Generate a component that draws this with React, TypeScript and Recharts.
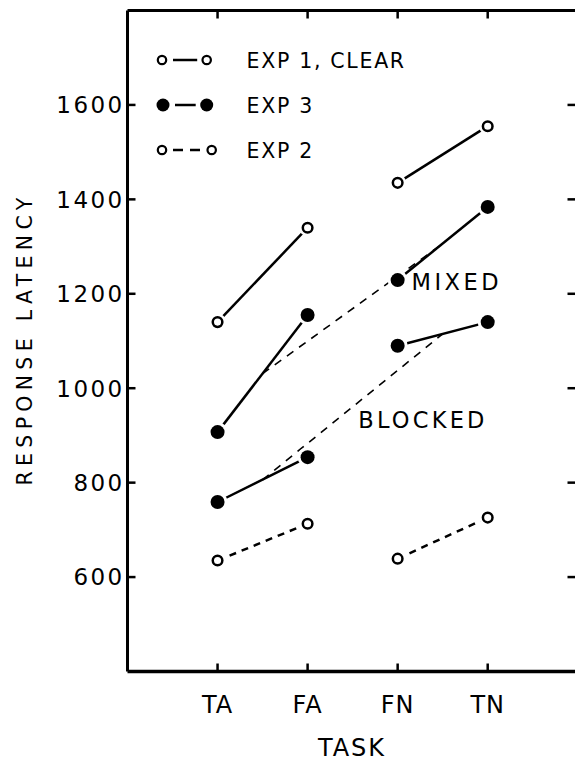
import React from 'react';
import { LineChart, Line, XAxis, YAxis, Customized } from 'recharts';

// ---- data ----
const tasks = ['TA', 'FA', 'FN', 'TN'];
const taskPositions = [1, 2, 3, 4];
const exp1Clear = [1140, 1340, 1435, 1555];
const exp3Mixed = [907, 1155, 1229, 1384];
const exp3Blocked = [759, 854, 1090, 1140];
const exp2 = [635, 713, 639, 726];
const trendPositions = [1.5, 3.5];
const mixedTrend = [1031, 1306];
const blockedTrend = [806, 1115];
const yTicks = [600, 800, 1000, 1200, 1400, 1600];
const segmentPairs = [
  [0, 1],
  [2, 3],
];

const FONT = 'DejaVu Sans';
const INK = '#000';

const segment = (vals: number[], pair: number[]) =>
  pair.map((i) => ({ x: taskPositions[i], v: vals[i] }));

const trend = (vals: number[]) => vals.map((v, i) => ({ x: trendPositions[i], v }));

const OpenDot = (props: any) => {
  const { cx, cy } = props;
  if (cx == null || cy == null) return null;
  return (
    <g>
      <circle cx={cx} cy={cy} r={8.5} fill="#fff" />
      <circle cx={cx} cy={cy} r={4.8} fill="#fff" stroke={INK} strokeWidth={2.5} />
    </g>
  );
};

const FilledDot = (props: any) => {
  const { cx, cy } = props;
  if (cx == null || cy == null) return null;
  return (
    <g>
      <circle cx={cx} cy={cy} r={10} fill="#fff" />
      <circle cx={cx} cy={cy} r={7} fill={INK} />
    </g>
  );
};

const BottomTick = (props: any) => {
  const { x, y, payload } = props;
  return (
    <g>
      <line x1={x} x2={x} y1={y} y2={y - 8} stroke={INK} strokeWidth={2.5} />
      <text
        x={x}
        y={y + 41}
        textAnchor="middle"
        fontFamily={FONT}
        fontSize={24}
        letterSpacing={1}
        fill={INK}
      >
        {tasks[taskPositions.indexOf(payload.value)]}
      </text>
    </g>
  );
};

const TopTick = (props: any) => {
  const { x, y } = props;
  return <line x1={x} x2={x} y1={y} y2={y + 8} stroke={INK} strokeWidth={2.5} />;
};

const LeftTick = (props: any) => {
  const { x, y, payload } = props;
  return (
    <g>
      <line x1={x} x2={x + 8} y1={y} y2={y} stroke={INK} strokeWidth={2.5} />
      <text
        x={x - 3}
        y={y + 8.3}
        textAnchor="end"
        fontFamily={FONT}
        fontSize={23}
        letterSpacing={2.4}
        fill={INK}
      >
        {payload.value}
      </text>
    </g>
  );
};

const RightTick = (props: any) => {
  const { x, y } = props;
  return <line x1={x} x2={x - 8} y1={y} y2={y} stroke={INK} strokeWidth={2.5} />;
};

const legendRows = [
  { label: 'EXP 1, CLEAR', kind: 'open', dash: undefined as string | undefined, y: 60, x2: 206.7 },
  { label: 'EXP 3', kind: 'filled', dash: undefined as string | undefined, y: 105, x2: 206.7 },
  { label: 'EXP 2', kind: 'open', dash: '10 7', y: 150, x2: 211.7 },
];

const Annotations = () => (
  <g>
    {legendRows.map((r) => (
      <g key={r.label}>
        <line
          x1={r.kind === 'open' ? 173 : 175}
          x2={r.x2 - (r.kind === 'open' ? 9.5 : 11)}
          y1={r.y}
          y2={r.y}
          stroke={INK}
          strokeWidth={2.5}
          strokeDasharray={r.dash}
        />
        {r.kind === 'open' ? (
          <>
            <circle cx={162} cy={r.y} r={4.2} fill="#fff" stroke={INK} strokeWidth={2.2} />
            <circle cx={r.x2} cy={r.y} r={4.2} fill="#fff" stroke={INK} strokeWidth={2.2} />
          </>
        ) : (
          <>
            <circle cx={163} cy={r.y} r={6.5} fill={INK} />
            <circle cx={r.x2} cy={r.y} r={6.5} fill={INK} />
          </>
        )}
        <text
          x={246.5}
          y={r.y + 7.5}
          fontFamily={FONT}
          fontSize={20.5}
          letterSpacing={1.7}
          fill={INK}
        >
          {r.label}
        </text>
      </g>
    ))}
    <text x={411.5} y={290} fontFamily={FONT} fontSize={22.5} letterSpacing={3.5} fill={INK}>
      MIXED
    </text>
    <text x={358.3} y={427.5} fontFamily={FONT} fontSize={22.5} letterSpacing={3.2} fill={INK}>
      BLOCKED
    </text>
    <text
      x={32}
      y={339}
      transform="rotate(-90, 32, 339)"
      textAnchor="middle"
      fontFamily={FONT}
      fontSize={20.5}
      letterSpacing={5.3}
      fill={INK}
    >
      RESPONSE LATENCY
    </text>
    <text
      x={352}
      y={756}
      textAnchor="middle"
      fontFamily={FONT}
      fontSize={24}
      letterSpacing={2}
      fill={INK}
    >
      TASK
    </text>
  </g>
);

export default function App() {
  const solidSeries = [
    { name: 'EXP 1, CLEAR', vals: exp1Clear, dot: OpenDot, dash: undefined as string | undefined },
    { name: 'EXP 3 MIXED', vals: exp3Mixed, dot: FilledDot, dash: undefined as string | undefined },
    { name: 'EXP 3 BLOCKED', vals: exp3Blocked, dot: FilledDot, dash: undefined as string | undefined },
    { name: 'EXP 2', vals: exp2, dot: OpenDot, dash: '7 6' },
  ];
  return (
    <div
      style={{
        position: 'absolute',
        left: 0,
        top: 0,
        width: 575,
        height: 761,
        overflow: 'hidden',
        background: '#fff',
      }}
    >
      <LineChart
        width={580}
        height={761}
        margin={{ top: 9.5, left: 126.5, right: 3.5, bottom: 88.5 }}
      >
        <XAxis
          type="number"
          dataKey="x"
          domain={[0, 4.975]}
          ticks={taskPositions}
          interval={0}
          allowDataOverflow
          height={1}
          tickSize={0}
          tickMargin={0}
          tickLine={false}
          tick={<BottomTick />}
          axisLine={{ stroke: INK, strokeWidth: 3.5 }}
        />
        <XAxis
          xAxisId="top"
          orientation="top"
          type="number"
          dataKey="x"
          domain={[0, 4.975]}
          ticks={taskPositions}
          interval={0}
          allowDataOverflow
          height={1}
          tickSize={0}
          tickMargin={0}
          tickLine={false}
          tick={<TopTick />}
          axisLine={{ stroke: INK, strokeWidth: 3 }}
        />
        <YAxis
          type="number"
          domain={[400, 1800]}
          ticks={yTicks}
          interval={0}
          allowDataOverflow
          width={1}
          tickSize={0}
          tickMargin={0}
          tickLine={false}
          tick={<LeftTick />}
          axisLine={{ stroke: INK, strokeWidth: 3 }}
        />
        <YAxis
          yAxisId="right"
          orientation="right"
          type="number"
          domain={[400, 1800]}
          ticks={yTicks}
          interval={0}
          allowDataOverflow
          width={1}
          tickSize={0}
          tickMargin={0}
          tickLine={false}
          tick={<RightTick />}
          axisLine={{ stroke: INK, strokeWidth: 1 }}
        />
        <Line
          data={trend(mixedTrend)}
          dataKey="v"
          type="linear"
          stroke={INK}
          strokeWidth={1.6}
          strokeDasharray="8 7"
          dot={false}
          activeDot={false}
          isAnimationActive={false}
        />
        <Line
          data={trend(blockedTrend)}
          dataKey="v"
          type="linear"
          stroke={INK}
          strokeWidth={1.6}
          strokeDasharray="8 7"
          dot={false}
          activeDot={false}
          isAnimationActive={false}
        />
        {solidSeries.map((s) =>
          segmentPairs.map((pair, k) => (
            <Line
              key={s.name + k}
              data={segment(s.vals, pair)}
              dataKey="v"
              type="linear"
              stroke={INK}
              strokeWidth={2.5}
              strokeDasharray={s.dash}
              dot={s.dot}
              activeDot={false}
              isAnimationActive={false}
            />
          ))
        )}
        <Customized component={Annotations} />
      </LineChart>
    </div>
  );
}
